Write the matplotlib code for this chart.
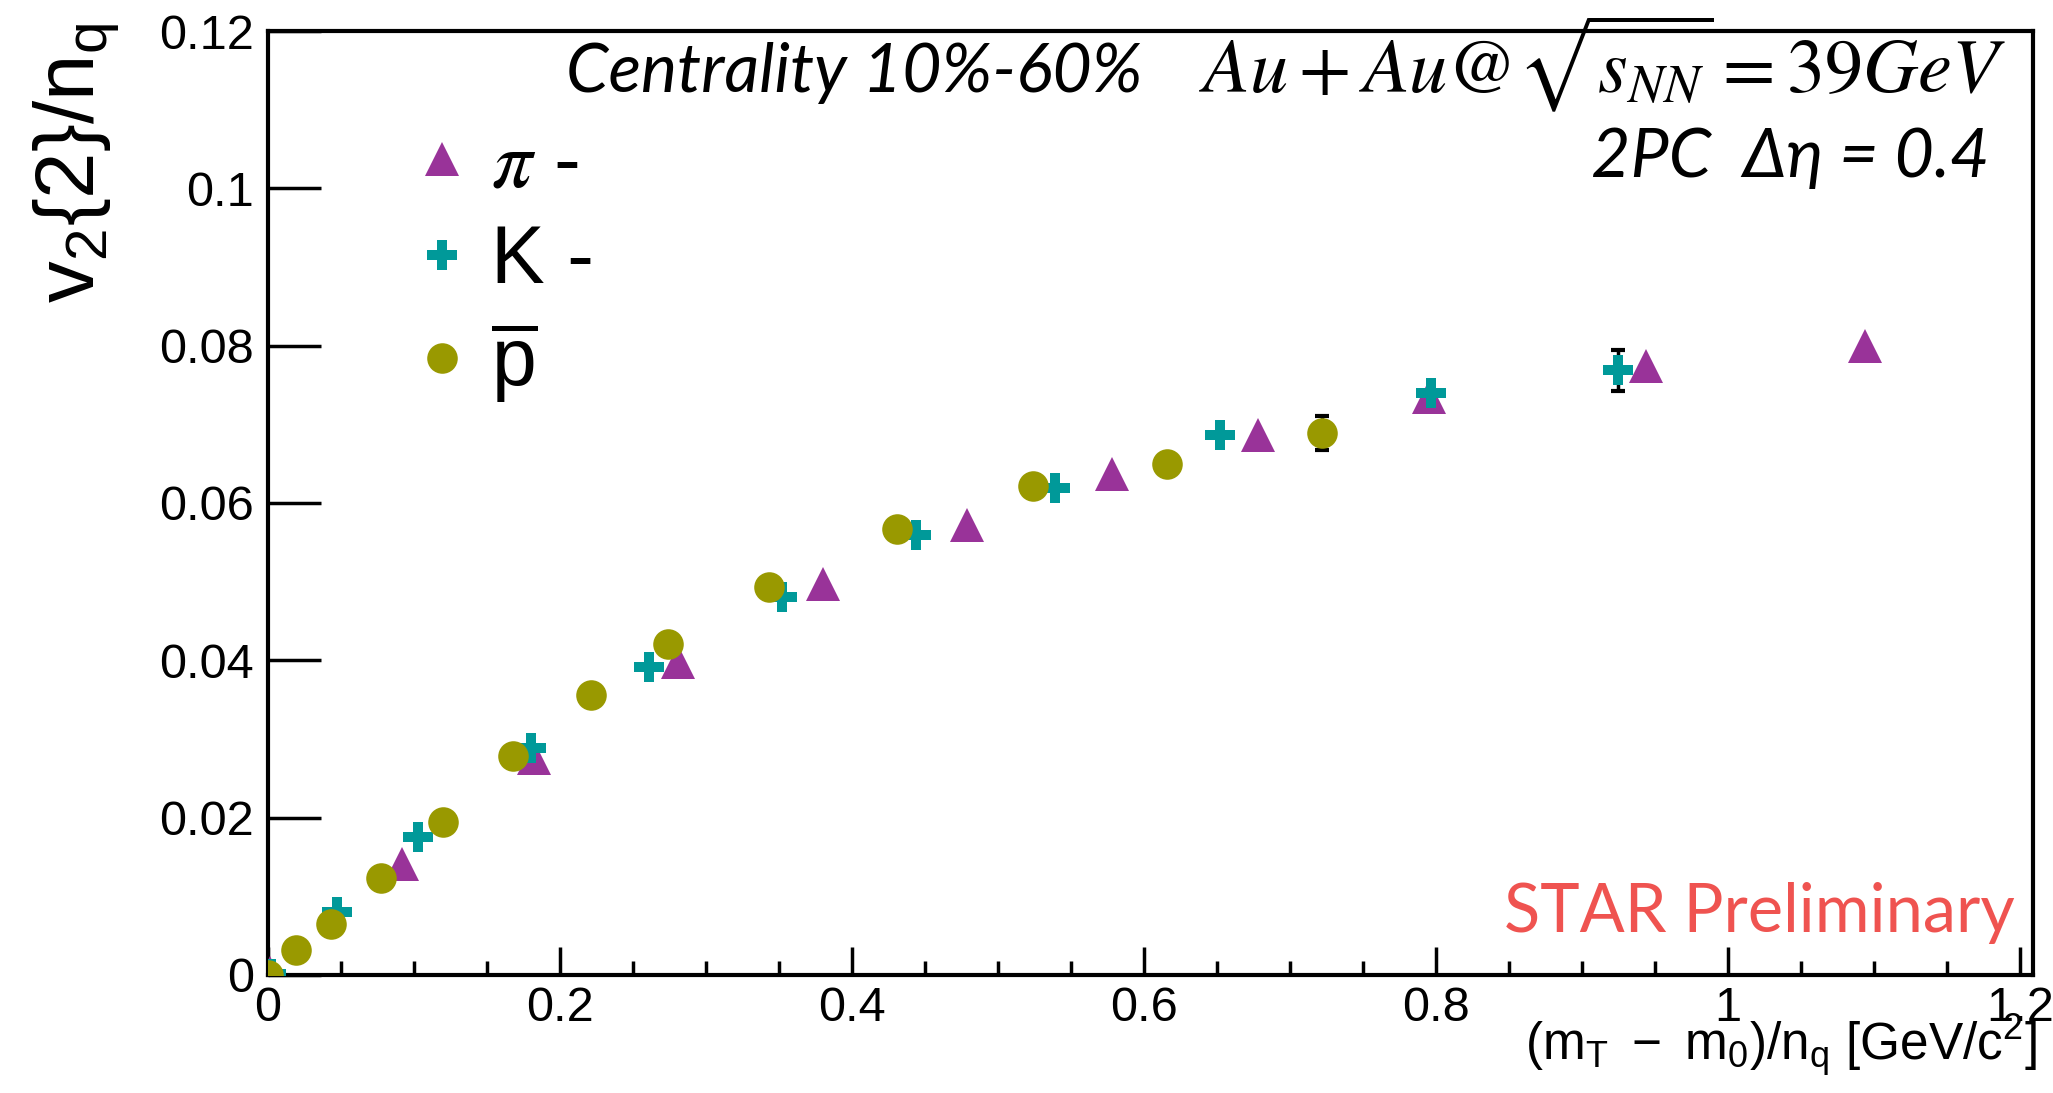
import numpy as np
import matplotlib
matplotlib.use("Agg")
import matplotlib.pyplot as plt
from matplotlib.ticker import MultipleLocator, FormatStrFormatter

plt.rcParams['font.family'] = ['Liberation Sans', 'DejaVu Sans']
plt.rcParams['mathtext.fontset'] = 'custom'
plt.rcParams['mathtext.rm'] = 'Liberation Sans'
plt.rcParams['mathtext.it'] = 'Liberation Sans:italic'

# pi- : (m_T - m_0)/n_q , v2{2}/n_q
pi_x = [0.001, 0.092, 0.182, 0.281, 0.380, 0.479, 0.578, 0.678, 0.795, 0.944, 1.094]
pi_y = [0.0003, 0.0141, 0.0276, 0.0398, 0.0497, 0.0572, 0.0637, 0.0687, 0.0735, 0.0774, 0.0799]

# K-
k_x = [0.002, 0.047, 0.103, 0.180, 0.261, 0.352, 0.444, 0.539, 0.652, 0.797, 0.925]
k_y = [0.0001, 0.0080, 0.0175, 0.0288, 0.0391, 0.0481, 0.0559, 0.0619, 0.0687, 0.0740, 0.0769]
k_err = [0, 0, 0, 0, 0, 0, 0, 0, 0, 0, 0.0026]

# anti-proton
p_x = [0.0, 0.019, 0.043, 0.077, 0.120, 0.168, 0.221, 0.274, 0.343, 0.431, 0.524, 0.616, 0.722]
p_y = [0.0, 0.0032, 0.0065, 0.0123, 0.0195, 0.0278, 0.0356, 0.0421, 0.0493, 0.0567, 0.0622, 0.0649, 0.0689]
p_err = [0, 0, 0, 0, 0, 0, 0, 0, 0, 0, 0, 0, 0.0022]

fig = plt.figure(figsize=(20.53, 10.93), dpi=100)
ax = fig.add_axes([0.1306, 0.108, 0.8596, 0.8636])

def draw(x, y, err, marker, color, size, label):
    x = np.array(x)
    y = np.array(y)
    if err is not None:
        err = np.array(err)
        m = err > 0
        ax.errorbar(x[m], y[m], yerr=err[m], fmt='none', ecolor='black',
                    elinewidth=2.5, capsize=5, capthick=3, zorder=2)
    ax.plot(x, y, linestyle='none', marker=marker, color=color,
            markersize=size, markeredgewidth=0, label=label, zorder=3)

draw(pi_x, pi_y, None, '^', '#993399', 24, r'$\pi$ -')
draw(k_x, k_y, k_err, 'P', '#009999', 22, 'K -')
draw(p_x, p_y, p_err, 'o', '#999900', 22, r'$\mathregular{\overline{p}}$')

ax.set_xlim(0, 1.209)
ax.set_ylim(0, 0.12)
ax.xaxis.set_major_locator(MultipleLocator(0.2))
ax.xaxis.set_minor_locator(MultipleLocator(0.05))
ax.yaxis.set_major_locator(MultipleLocator(0.02))
ax.xaxis.set_major_formatter(FormatStrFormatter('%g'))
ax.yaxis.set_major_formatter(FormatStrFormatter('%g'))
ax.tick_params(axis='both', which='both', direction='in', top=False, right=False,
               labelsize=35, width=2.5)
ax.tick_params(axis='y', which='major', length=38, pad=10)
ax.tick_params(axis='x', which='major', length=20, pad=8)
ax.tick_params(axis='x', which='minor', length=10)
for s in ax.spines.values():
    s.set_linewidth(3)

ax.set_ylabel(r'$\mathregular{v_{2}\{2\}/n_{q}}$', fontsize=60)
ax.yaxis.set_label_coords(-0.083, 0.86)
ax.text(1.002, -0.04, r'$\mathregular{(m_{T}\ -\ m_{0})/n_{q}\ [GeV/c^{2}]}$',
        transform=ax.transAxes, ha='right', va='top', fontsize=37)

leg = ax.legend(loc='upper left', bbox_to_anchor=(0.06, 0.94), frameon=False,
                fontsize=58, handlelength=0.7, handletextpad=0.25,
                labelspacing=0.25, borderpad=0)
leg.get_texts()[0].set_math_fontfamily('stix')

ax.text(0.169, 0.935, 'Centrality 10%-60%', transform=ax.transAxes,
        fontsize=49, style='italic', family=['Lato', 'DejaVu Sans'])
ax.text(0.985, 0.935, r'$Au + Au@\sqrt{s_{NN}} = 39GeV$', transform=ax.transAxes,
        ha='right', fontsize=55, math_fontfamily='stix')
ax.text(0.9755, 0.845, '2PC  \u0394\u03b7 = 0.4', transform=ax.transAxes,
        ha='right', fontsize=49, style='italic', family=['Lato', 'DejaVu Sans'])
ax.text(0.99, 0.046, 'STAR Preliminary', transform=ax.transAxes, ha='right',
        fontsize=48, color='#ef5350', family=['Lato', 'DejaVu Sans'])

fig.savefig('out.png', dpi=100)
